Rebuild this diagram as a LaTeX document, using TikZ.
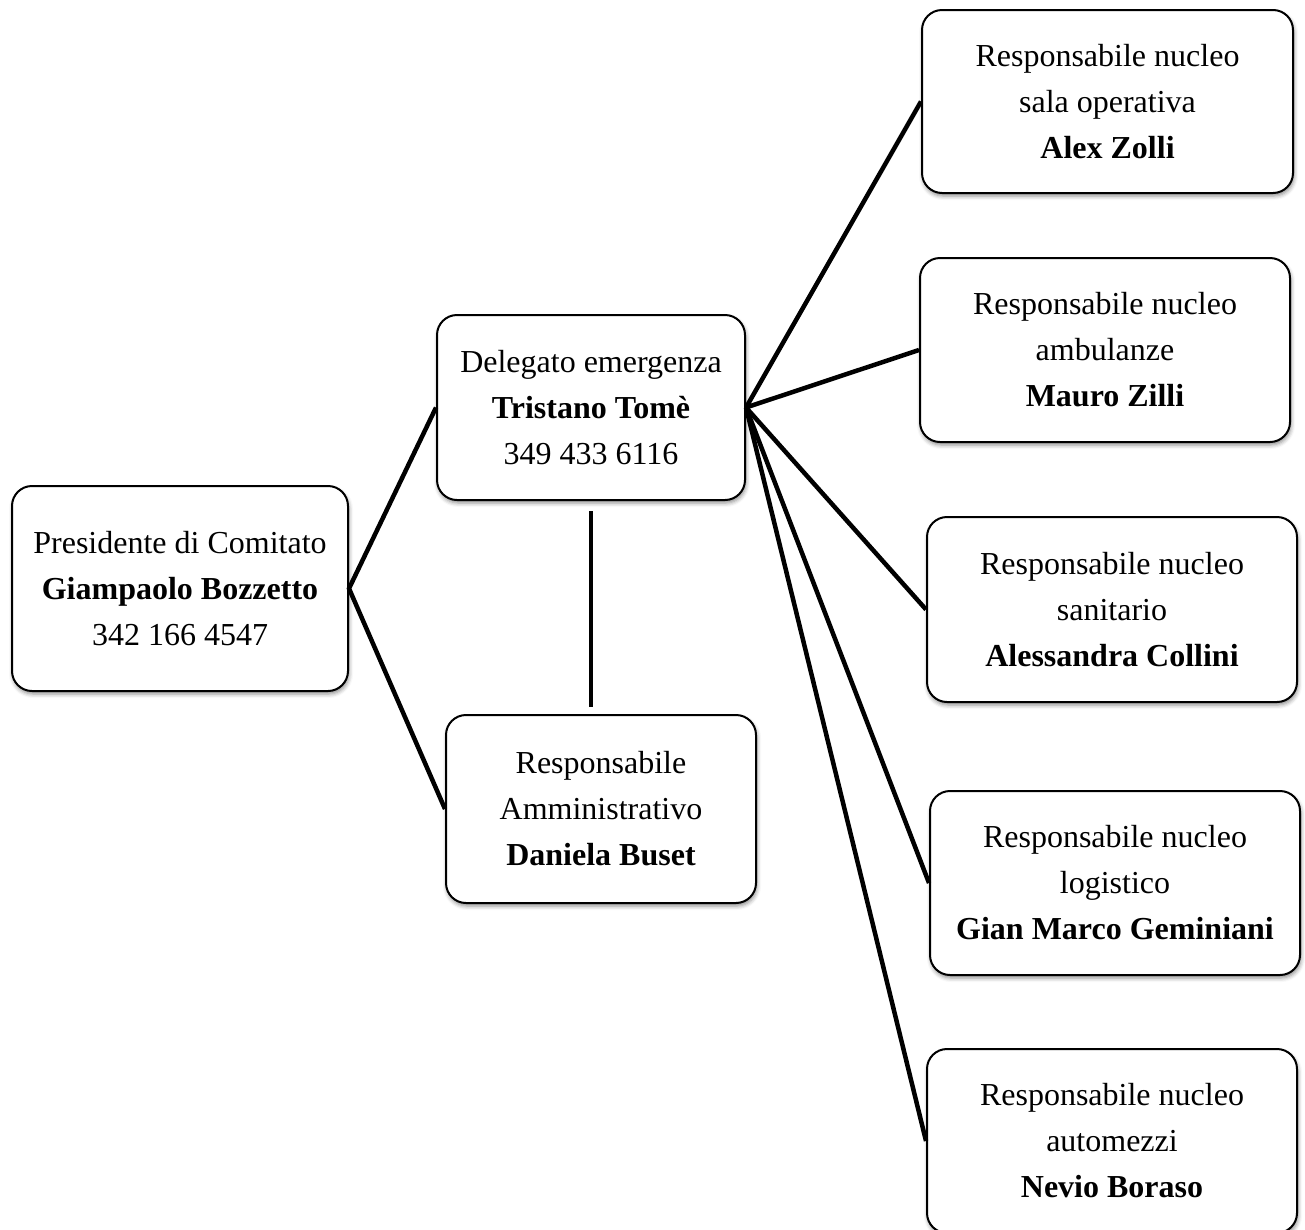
\documentclass[tikz,border=0pt]{standalone}
\usepackage{fontspec}
\setmainfont{Liberation Serif}
\usepackage{tikz}
\usetikzlibrary{shadows.blur}

\begin{document}
\begin{tikzpicture}[x=1pt,y=1pt]
\tikzstyle{ruolo}=[rectangle,draw,line width=2pt,rounded corners=20pt,fill=white,align=center,inner sep=0pt,font=\fontsize{32}{46}\selectfont,blur shadow={shadow xshift=1pt,shadow yshift=-3pt,shadow blur radius=4pt,shadow opacity=45}]
\tikzstyle{legame}=[line width=4.5pt]
\useasboundingbox (0,0) rectangle (1305,-1229);
\clip (0,0) rectangle (1305,-1229);
\node[ruolo,minimum width=336pt,minimum height=205pt] (pres) at (180,-588.5) {Presidente di Comitato\\\textbf{Giampaolo Bozzetto}\\342 166 4547};
\node[ruolo,minimum width=308pt,minimum height=185pt] (deleg) at (591,-407.5) {Delegato emergenza\\\textbf{Tristano Tomè}\\349 433 6116};
\node[ruolo,minimum width=310pt,minimum height=188pt] (ammin) at (601,-809) {Responsabile\\Amministrativo\\\textbf{Daniela Buset}};
\node[ruolo,minimum width=371pt,minimum height=183pt] (salaop) at (1107.5,-101.5) {Responsabile nucleo\\sala operativa\\\textbf{Alex Zolli}};
\node[ruolo,minimum width=370pt,minimum height=184pt] (ambul) at (1105,-350) {Responsabile nucleo\\ambulanze\\\textbf{Mauro Zilli}};
\node[ruolo,minimum width=370pt,minimum height=185pt] (sanit) at (1112,-609.5) {Responsabile nucleo\\sanitario\\\textbf{Alessandra Collini}};
\node[ruolo,minimum width=370pt,minimum height=184pt] (logist) at (1115,-883) {Responsabile nucleo\\logistico\\\textbf{Gian Marco Geminiani}};
\node[ruolo,minimum width=370pt,minimum height=184pt] (autom) at (1112,-1141) {Responsabile nucleo\\automezzi\\\textbf{Nevio Boraso}};
\draw[legame] (deleg.west) -- (pres.east) -- (ammin.west);
\draw[legame,line width=4pt,shorten <=10pt,shorten >=7pt] (deleg.south) -- (deleg.south |- ammin.north);
\foreach \n in {salaop,ambul,sanit,logist,autom}
  \draw[legame] (deleg.east) -- (\n.west);
\end{tikzpicture}
\end{document}
